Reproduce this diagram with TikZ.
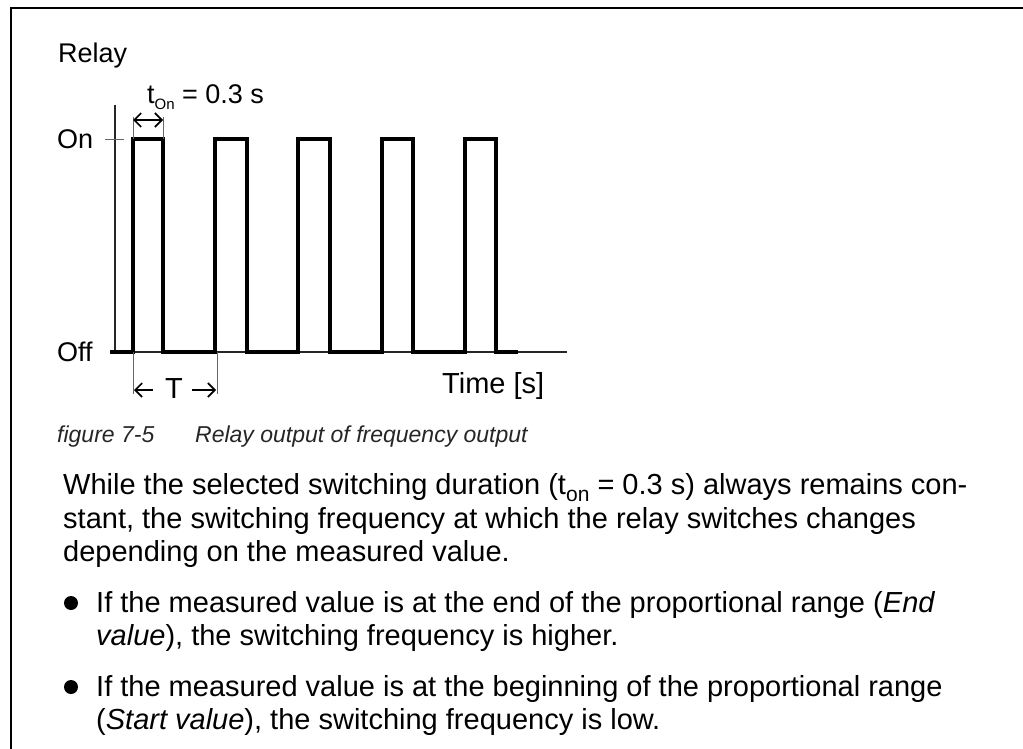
\documentclass[tikz,border=0pt]{standalone}
\usepackage{fontspec}
\setmainfont{Liberation Sans}
\usetikzlibrary{arrows.meta}
\begin{document}
\begin{tikzpicture}[x=1pt,y=-1pt,
  txt/.style={anchor=base west, inner sep=0pt, font=\fontsize{29}{33}\selectfont},
  lbl/.style={anchor=base west, inner sep=0pt, font=\fontsize{27}{30}\selectfont},
  figcap/.style={anchor=base west, inner sep=0pt, text=black!85, font=\fontsize{23}{26}\selectfont\itshape},
  sig/.style={line width=4pt, line cap=butt, line join=miter},
  axis/.style={line width=1.4pt, black!85},
  guide/.style={line width=0.8pt, black!60},
  tip/.style={-{Straight Barb[length=7pt,width=14pt]}},
  dim/.style={line width=1.6pt, {Straight Barb[length=7pt,width=14pt]}-{Straight Barb[length=7pt,width=14pt]}},
  dot/.style={circle, fill=black, inner sep=0pt, minimum size=14pt}]
\useasboundingbox (0,0) rectangle (1023,749);
% frame
\draw[line width=2.2pt] (11,760) -- (11,8) -- (1030,8);
% axes
\coordinate (ytop) at (115,105);
\coordinate (ybot) at (115,352);
\coordinate (xl) at (110,352);
\coordinate (xr) at (567,352);
\draw[axis] (ytop) -- (ybot);
\draw[axis] (xl) -- (xr);
\coordinate (tk1) at (105,140);
\coordinate (tk2) at (124,140);
\draw[guide, line width=1pt] (tk1) -- (tk2);
% signal
\draw[sig] (110,352) -- (133,352) -- (133,139) -- (163,139) -- (163,352)
  -- (215,352) -- (215,139) -- (247,139) -- (247,352)
  -- (298,352) -- (298,139) -- (330,139) -- (330,352)
  -- (382,352) -- (382,139) -- (413,139) -- (413,352)
  -- (465,352) -- (465,139) -- (496,139) -- (496,352) -- (518,352);
% ton dimension
\coordinate (a1) at (133,139);
\coordinate (a2) at (163,139);
\coordinate (a1t) at (133,117);
\coordinate (a2t) at (163,117);
\draw[guide] (a1) -- (a1t);
\draw[guide] (a2) -- (a2t);
\coordinate (d1l) at (133,120);
\coordinate (d1r) at (163,120);
\draw[dim] (d1l) -- (d1r);
\node[lbl] (ton) at (147,104) {t\raisebox{-6pt}{\fontsize{15}{15}\selectfont On} = 0.3 s};
% T dimension
\coordinate (b1) at (133,352);
\coordinate (b2) at (217,352);
\coordinate (b1b) at (133,394);
\coordinate (b2b) at (217,394);
\draw[guide] (b1) -- (b1b);
\draw[guide] (b2) -- (b2b);
\coordinate (la) at (153,390);
\coordinate (lb) at (134,390);
\coordinate (ra) at (192,390);
\coordinate (rb) at (216,390);
\draw[line width=1.6pt, tip] (la) -- (lb);
\draw[line width=1.6pt, tip] (ra) -- (rb);
\node[txt] (T) at (165,398) {T};
% labels
\node[lbl] (relay) at (58,63) {Relay};
\node[lbl] (on) at (57,149) {On};
\node[lbl] (off) at (57,361) {Off};
\node[txt] (time) at (442,393) {Time [s]};
\node[figcap] (fig) at (57,442) {figure 7-5};
\node[figcap] (figt) at (195,442) {Relay output of frequency output};
% text
\node[txt] (l1) at (63,494) {While the selected switching duration (t\raisebox{-7pt}{\fontsize{21}{21}\selectfont on} = 0.3 s) always remains con-};
\node[txt] (l2) at (63,528) {stant, the switching frequency at which the relay switches changes};
\node[txt] (l3) at (63,561) {depending on the measured value.};
\node[dot] (d1) at (71,603) {};
\node[txt] (b1a) at (96,612) {If the measured value is at the end of the proportional range (\textit{End}};
\node[txt] (b1b) at (96,645) {\textit{value}), the switching frequency is higher.};
\node[dot] (d2) at (71,687) {};
\node[txt] (b2a) at (96,696) {If the measured value is at the beginning of the proportional range};
\node[txt] (b2b) at (96,729) {(\textit{Start value}), the switching frequency is low.};
\end{tikzpicture}
\end{document}
